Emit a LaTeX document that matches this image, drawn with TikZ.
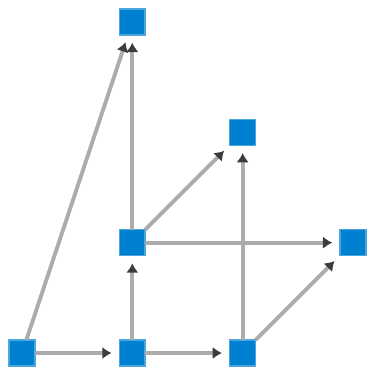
\documentclass[tikz,border=0pt]{standalone}
\usepackage{xcolor}
\usepackage{tikz}
\usetikzlibrary{arrows.meta, positioning}
\definecolor{vertexblue}{RGB}{0,128,208}
\definecolor{edgegrey}{RGB}{172,172,172}
\definecolor{tipgrey}{RGB}{60,60,60}

\begin{document}
\begin{tikzpicture}[
  x=1cm, y=1cm,
  vertex/.style={rectangle, fill=vertexblue, draw=vertexblue!70!white, line width=0.4pt,
                 minimum size=0.235cm, inner sep=0pt, outer sep=0pt},
  edge/.style={draw=edgegrey, line width=1pt, shorten >=2pt,
               -{Latex[length=2.4pt, width=3.2pt, color=tipgrey]}}
]
\useasboundingbox (-0.199,-0.172) rectangle (3.172,3.199);

\node[vertex] (a) at (0,0) {};
\node[vertex, right=1cm of a.center, anchor=center] (b) {};
\node[vertex, right=1cm of b.center, anchor=center] (c) {};
\node[vertex, above=1cm of b.center, anchor=center] (d) {};
\node[vertex, right=2cm of d.center, anchor=center] (e) {};
\node[vertex, above=2cm of c.center, anchor=center] (f) {};
\node[vertex, above=2cm of d.center, anchor=center] (g) {};

\draw[edge] (a) -- (b);
\draw[edge] (b) -- (c);
\draw[edge] (b) -- (d);
\draw[edge] (a) -- (g);
\draw[edge] (d) -- (g);
\draw[edge] (d) -- (f);
\draw[edge] (d) -- (e);
\draw[edge] (c) -- (f);
\draw[edge] (c) -- (e);
\end{tikzpicture}
\end{document}
